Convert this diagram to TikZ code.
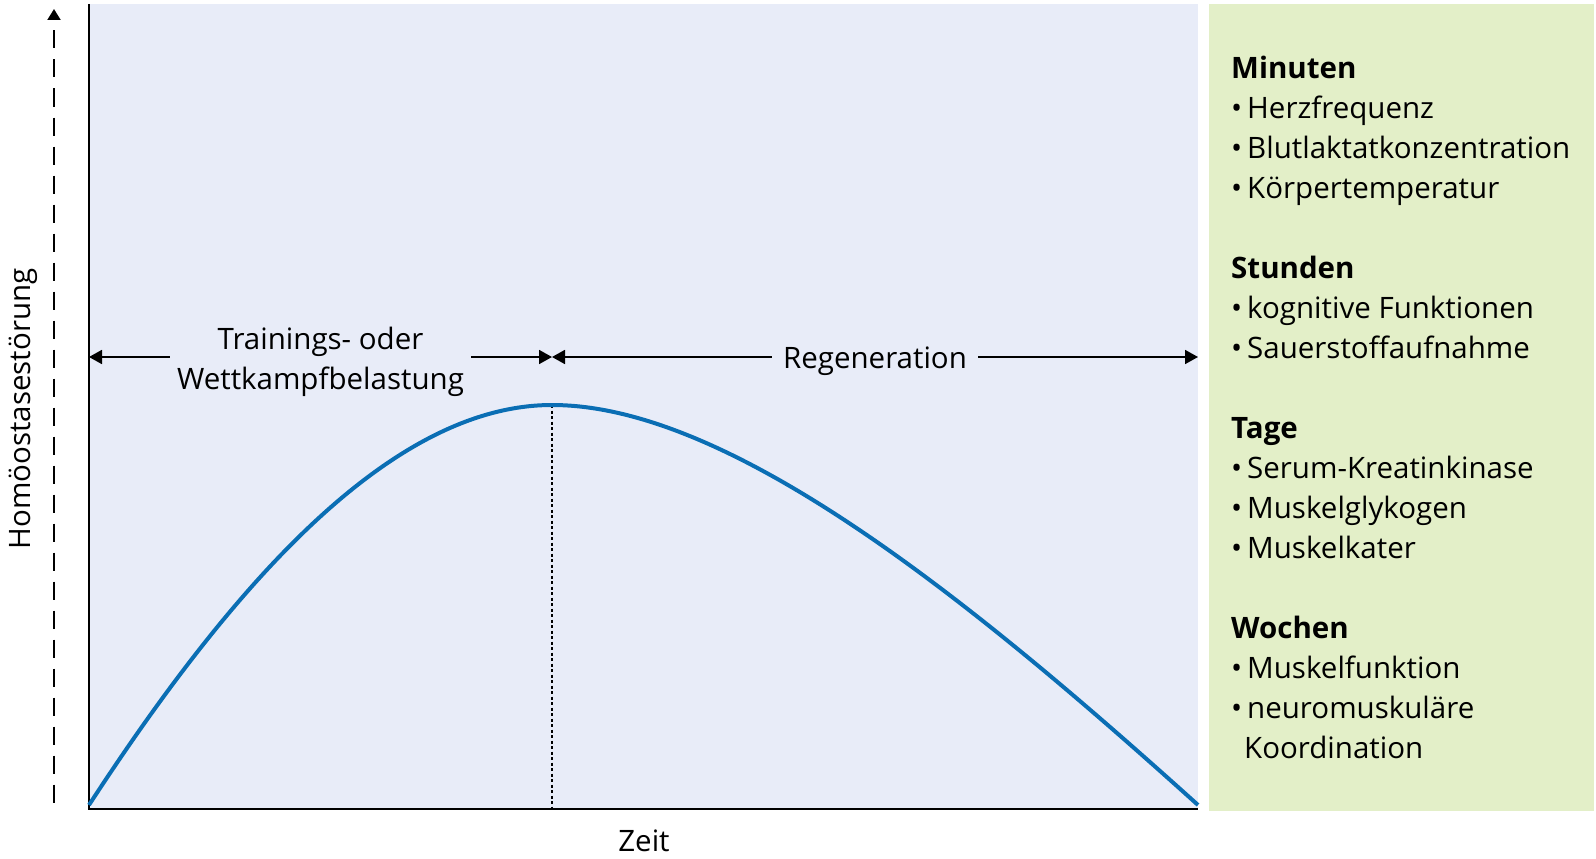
\documentclass[tikz,border=0pt]{standalone}
\usepackage{fontspec}
\setmainfont{Open Sans}
\usetikzlibrary{arrows.meta}
\definecolor{bluebg}{RGB}{232,236,248}
\definecolor{greenbg}{RGB}{227,239,200}
\definecolor{curveblue}{RGB}{10,110,180}
\newcommand{\bul}{\makebox[16pt][l]{•}}
\begin{document}
\begin{tikzpicture}[x=1pt,y=-1pt,
  lbl/.style={font=\fontsize{29.5}{40}\selectfont, inner sep=0pt},
  item/.style={lbl, anchor=base west},
  head/.style={item, font=\fontsize{29.5}{40}\selectfont\bfseries},
  axisline/.style={line width=2.2pt, black},
  dimline/.style={line width=1.8pt, {Triangle[length=13pt,width=14pt]}-{Triangle[length=13pt,width=14pt]}},
]
\useasboundingbox (0,0) rectangle (1596,859);
% panels
\fill[bluebg] (89,4) rectangle (1198,809);
\fill[greenbg] (1209,4) rectangle (1594,811);
% dashed y arrow
\coordinate (dT) at (54,9);
\coordinate (dB) at (54,807);
\draw[line width=2pt, dash pattern=on 18pt off 11pt, dash phase=18pt, {Triangle[length=11pt,width=13pt]}-] (dT) -- (dB);
% axes
\coordinate (Ytop) at (89,4);
\coordinate (O) at (89,809);
\coordinate (Xend) at (1198,809);
\draw[axisline] (Ytop) -- (O) -- (Xend);
% curve
\coordinate (cs) at (89,805);
\coordinate (peak) at (552,405);
\coordinate (ce) at (1198,805);
\coordinate (peakfoot) at (552,808);
\draw[line width=1.5pt, dash pattern=on 3pt off 2.5pt] (peak) -- (peakfoot);
\draw[curveblue, line width=4pt] (cs) .. controls (229,590) and (389,405) .. (peak)
  .. controls (732,405) and (975,604) .. (ce);
% dimension arrows
\coordinate (aL) at (89,357);
\coordinate (aM) at (552,357);
\coordinate (aR) at (1198,357);
\draw[dimline] (aL) -- node[lbl, fill=bluebg, align=center, inner xsep=7pt, yshift=-5pt] (belastung) {Trainings- oder\\Wettkampfbelastung} (aM);
\draw[dimline] (aM) -- node[lbl, fill=bluebg, inner xsep=11pt, inner ysep=4pt, yshift=-4pt] (regen) {Regeneration} (aR);
% axis labels
\node[lbl, rotate=90, anchor=base] (ylab) at (30,409) {Homöostasestörung};
\node[lbl, anchor=base] (xlab) at (644,851) {Zeit};
% right panel
\node[head] (h1) at (1231,78) {Minuten};
\node[item] (i11) at (1231,118) {\bul Herzfrequenz};
\node[item] (i12) at (1231,158) {\bul Blutlaktatkonzentration};
\node[item] (i13) at (1231,198) {\bul Körpertemperatur};
\node[head] (h2) at (1231,278) {Stunden};
\node[item] (i21) at (1231,318) {\bul kognitive Funktionen};
\node[item] (i22) at (1231,358) {\bul Sauerstoffaufnahme};
\node[head] (h3) at (1231,438) {Tage};
\node[item] (i31) at (1231,478) {\bul Serum-Kreatinkinase};
\node[item] (i32) at (1231,518) {\bul Muskelglykogen};
\node[item] (i33) at (1231,558) {\bul Muskelkater};
\node[head] (h4) at (1231,638) {Wochen};
\node[item] (i41) at (1231,678) {\bul Muskelfunktion};
\node[item] (i42) at (1231,718) {\bul neuromuskuläre};
\node[item] (i43) at (1244,758) {Koordination};
\end{tikzpicture}
\end{document}
